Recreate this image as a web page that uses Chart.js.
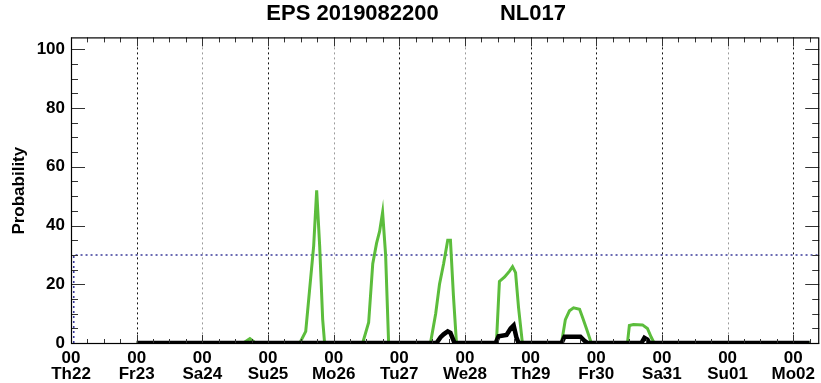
<!DOCTYPE html>
<html><head><meta charset="utf-8">
<script src="https://cdn.jsdelivr.net/npm/chart.js@4.4.1/dist/chart.umd.min.js"></script>
<style>html,body{margin:0;padding:0;background:#fff;}#wrap{width:821px;height:383px;}</style>
</head><body><div id="wrap"><canvas id="c" width="821" height="383"></canvas></div>
<script>
const titleText = '  EPS 2019082200          NL017';
const yAxisTitle = 'Probability';
const hourLabel = '00';
const dayLabels = ['Th22','Fr23','Sa24','Su25','Mo26','Tu27','We28','Th29','Fr30','Sa31','Su01','Mo02'];
const yTickValues = [0, 20, 40, 60, 80, 100];

const greenHours  = [24, 63, 65.4, 67.5, 83.6, 85.8, 87.6, 88.7, 89.8, 90.9, 92.0, 92.7,
                     106.6, 108.8, 110.3, 111.7, 112.8, 113.9, 115.0, 116.1,
                     131.4, 133.3, 134.7, 136.2, 137.7, 138.7, 139.8, 140.9,
                     155.5, 156.6, 158.5, 160.3, 161.4, 162.5, 163.6, 165.0,
                     179.3, 180.7, 182.2, 183.7, 185.9, 186.9, 188.4, 190.2,
                     203.4, 204.1, 205.6, 208.9, 210.7, 212.1, 213.2, 270];
const greenValues = [0, 0, 1.5, 0, 0, 4, 22, 33, 52, 33, 8, 0,
                     0, 7, 27, 34, 38, 44.5, 30, 0,
                     0, 10, 20, 27, 35, 35, 16, 0,
                     0, 21, 22.5, 24.5, 26, 24, 12, 0,
                     0, 8, 11, 12, 11.5, 9, 5, 0,
                     0, 6, 6.3, 6.2, 5, 2, 0, 0];

const blackHours  = [24, 133.6, 135.1, 136.2, 137.7, 138.7, 140.2,
                     155.2, 156.3, 159.2, 160.7, 161.8, 162.8, 163.6,
                     179.3, 180.4, 186.2, 187.7, 188.8,
                     208.5, 209.6, 210.7, 211.4, 270];
const blackValues = [0, 0, 2, 3, 4, 3.5, 0,
                     0, 2.3, 2.8, 5, 6, 2, 0,
                     0, 2.2, 2.2, 0.8, 0,
                     0, 1.8, 1.2, 0, 0];

const thresholdHours  = [1, 1, 273.5];
const thresholdValues = [0, 30, 30];

const X_MAX = 273.5, Y_MIN = -0.3, Y_MAX = 104;
const greyDays = [2, 4, 6, 10];

const toPts = (xs, ys) => xs.map((x, i) => ({x: x, y: ys[i]}));

const framePlugin = {
  id: 'frame',
  beforeDatasetsDraw(chart) {
    const {ctx, chartArea: a, scales: {x}} = chart;
    ctx.save();
    ctx.lineWidth = 1;
    ctx.setLineDash([2, 3]);
    for (let d = 1; d < dayLabels.length; d++) {
      const px = Math.round(x.getPixelForValue(d * 24)) + 0.5;
      ctx.strokeStyle = greyDays.includes(d) ? '#9a9a9a' : '#111';
      ctx.beginPath(); ctx.moveTo(px, a.top); ctx.lineTo(px, a.bottom); ctx.stroke();
    }
    ctx.restore();
  },
  afterDatasetsDraw(chart) {
    const {ctx, chartArea: a, scales: {x, y}} = chart;
    ctx.save();
    ctx.strokeStyle = '#333';
    ctx.lineWidth = 1;
    for (let h = 0; h <= X_MAX; h += 6) {
      const px = Math.round(x.getPixelForValue(h)) + 0.5;
      const len = (h % 24 === 0) ? 9 : 5;
      ctx.beginPath();
      ctx.moveTo(px, a.top); ctx.lineTo(px, a.top + len);
      ctx.moveTo(px, a.bottom); ctx.lineTo(px, a.bottom - len);
      ctx.stroke();
    }
    for (let v = 0; v <= 100; v += 5) {
      const py = Math.round(y.getPixelForValue(v)) + 0.5;
      const len = (v % 20 === 0) ? 14 : 7;
      ctx.beginPath();
      ctx.moveTo(a.left, py); ctx.lineTo(a.left + len, py);
      ctx.moveTo(a.right, py); ctx.lineTo(a.right - len, py);
      ctx.stroke();
    }
    ctx.strokeStyle = '#000';
    ctx.lineWidth = 1.2;
    ctx.strokeRect(a.left + 0.5, a.top + 0.5, a.right - a.left - 1, a.bottom - a.top - 1);
    ctx.restore();
  }
};

new Chart(document.getElementById('c'), {
  type: 'line',
  data: {
    datasets: [
      {
        label: 'threshold', order: 3,
        data: toPts(thresholdHours, thresholdValues),
        borderColor: '#3a3a9a', borderWidth: 1.6, borderDash: [2, 3],
        pointRadius: 0, fill: false, tension: 0
      },
      {
        label: 'green', order: 2,
        data: toPts(greenHours, greenValues),
        borderColor: '#5cbd3c', borderWidth: 3,
        pointRadius: 0, fill: false, tension: 0
      },
      {
        label: 'black', order: 1,
        data: toPts(blackHours, blackValues),
        borderColor: '#000', borderWidth: 4.5,
        pointRadius: 0, fill: false, tension: 0
      }
    ]
  },
  options: {
    responsive: false,
    animation: false,
    devicePixelRatio: 1,
    layout: {padding: {left: 0, right: 1, top: 0, bottom: 0}},
    plugins: {
      legend: {display: false},
      tooltip: {enabled: false},
      title: {
        display: true, text: titleText, color: '#000',
        font: {family: '"Liberation Sans", Arial, sans-serif', size: 22, weight: 'bold'},
        padding: {top: 1, bottom: 10}
      }
    },
    scales: {
      x: {
        type: 'linear', min: 0, max: X_MAX,
        grid: {display: false, drawTicks: false},
        border: {display: false},
        afterBuildTicks: s => { s.ticks = dayLabels.map((_, i) => ({value: i * 24})); },
        afterFit: s => { s.height = 39; },
        ticks: {
          autoSkip: false, maxRotation: 0, minRotation: 0, padding: 6,
          color: '#000',
          font: {family: '"Liberation Sans", Arial, sans-serif', size: 17, weight: 'bold', lineHeight: 0.95},
          callback: v => [hourLabel, dayLabels[Math.round(v / 24)]]
        }
      },
      y: {
        type: 'linear', min: Y_MIN, max: Y_MAX,
        grid: {display: false, drawTicks: false},
        border: {display: false},
        afterBuildTicks: s => { s.ticks = yTickValues.map(v => ({value: v})); },
        afterFit: s => { s.width = 71; },
        ticks: {
          padding: 6, color: '#000',
          font: {family: '"Liberation Sans", Arial, sans-serif', size: 17, weight: 'bold'}
        },
        title: {
          display: true, text: yAxisTitle, color: '#000',
          font: {family: '"Liberation Sans", Arial, sans-serif', size: 17, weight: 'bold'},
          padding: {top: 9, bottom: 0}
        }
      }
    }
  },
  plugins: [framePlugin]
});
</script>
</body></html>
